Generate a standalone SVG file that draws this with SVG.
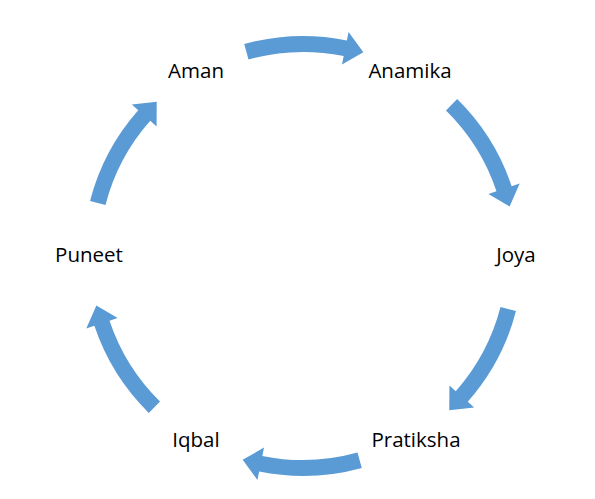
<svg xmlns="http://www.w3.org/2000/svg" xmlns:xlink="http://www.w3.org/1999/xlink" width="595" height="499" viewBox="0 0 595 499">
<style>
.lbl{font-family:"Open Sans","Noto Sans","Liberation Sans",sans-serif;font-size:20.5px;fill:#000;text-anchor:middle}
.arr{fill:#5B9BD5;stroke:none}
</style>
<defs>
<path id="arc" d="M244.22,44.01 A220,220 0 0 1 346.87,40.42 L348.56,32.09 L363.35,52.25 L341.98,64.43 L343.68,56.10 A204,204 0 0 0 248.49,59.42 Z"/>
</defs>
<rect width="595" height="499" fill="#fff"/>
<g id="connectors" class="arr">
<use xlink:href="#arc" href="#arc"/>
<use xlink:href="#arc" href="#arc" transform="rotate(60 303 256)"/>
<use xlink:href="#arc" href="#arc" transform="rotate(120 303 256)"/>
<use xlink:href="#arc" href="#arc" transform="rotate(180 303 256)"/>
<use xlink:href="#arc" href="#arc" transform="rotate(240 303 256)"/>
<use xlink:href="#arc" href="#arc" transform="rotate(300 303 256)"/>
</g>
<g id="aman"><text class="lbl" x="196" y="78">Aman</text></g>
<g id="anamika"><text class="lbl" x="410" y="78">Anamika</text></g>
<g id="joya"><text class="lbl" x="516" y="262">Joya</text></g>
<g id="pratiksha"><text class="lbl" x="416" y="447">Pratiksha</text></g>
<g id="iqbal"><text class="lbl" x="196" y="447">Iqbal</text></g>
<g id="puneet"><text class="lbl" x="89" y="262">Puneet</text></g>
</svg>
